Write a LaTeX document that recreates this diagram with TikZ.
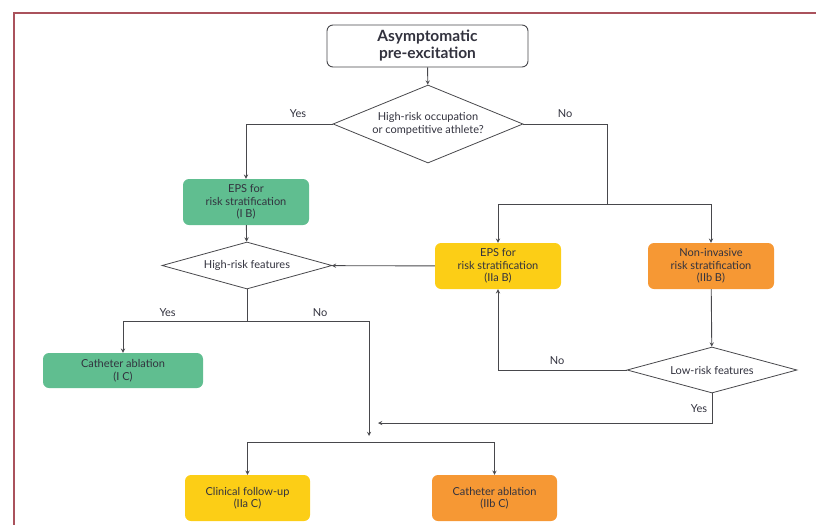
\documentclass[tikz,border=0pt]{standalone}
\usepackage{fontspec}
\setmainfont{Lato}
\usepackage{xcolor}
\usetikzlibrary{shapes,arrows,positioning}

\definecolor{boxgreen}{RGB}{96,190,144}
\definecolor{boxyellow}{RGB}{252,206,22}
\definecolor{boxorange}{RGB}{246,152,52}
\definecolor{linegray}{RGB}{72,72,76}
\definecolor{txtgray}{RGB}{50,50,62}
\definecolor{framered}{RGB}{170,82,92}

\begin{document}
\begin{tikzpicture}[x=1pt, y=-1pt, font=\fontsize{11}{12.5}\selectfont, text=txtgray]
% Define styles
\tikzstyle{startstop} = [rectangle, rounded corners=6pt, minimum width=201pt, minimum height=42pt, inner sep=1pt, align=center, draw=linegray, line width=0.9pt, fill=white, font=\fontsize{15.5}{17}\selectfont\bfseries]
\tikzstyle{process} = [rectangle, rounded corners=6pt, minimum width=126pt, minimum height=46pt, inner sep=1pt, align=center]
\tikzstyle{decision} = [diamond, aspect=2.5, inner sep=0pt, align=center, draw=linegray, line width=0.8pt, fill=white]
\tikzstyle{arrow} = [line width=0.9pt, draw=linegray, ->, >=stealth]
\tikzstyle{line} = [line width=0.9pt, draw=linegray]

\useasboundingbox (0,0) rectangle (816,525);
\draw [framered, line width=1.5pt] (816,13) -- (14,13) -- (14,525);

% Define nodes
\node (start) [startstop] at (427.5,46) {Asymptomatic\\pre-excitation};
\node (occup) [decision, minimum width=190pt, minimum height=78pt] at (428,124) {High-risk occupation\\or competitive athlete?};
\node (epsone) [process, fill=boxgreen] at (246,202) {EPS for\\risk stratification\\(I B)};
\node (hrisk) [decision, minimum width=170pt, minimum height=47pt] at (247,265.5) {High-risk features};
\node (epstwo) [process, fill=boxyellow] at (498,266) {EPS for\\risk stratification\\(IIa B)};
\node (noninv) [process, fill=boxorange] at (711,266) {Non-invasive\\risk stratification\\(IIb B)};
\node (lrisk) [decision, minimum width=170pt, minimum height=46pt] at (712,370) {Low-risk features};
\node (ablone) [process, fill=boxgreen, minimum width=160pt, minimum height=35pt] at (123,370.5) {Catheter ablation\\(I C)};
\node (follow) [process, fill=boxyellow, minimum width=125pt] at (247.5,498) {Clinical follow-up\\(IIa C)};
\node (abltwo) [process, fill=boxorange, minimum width=125pt] at (494.5,498) {Catheter ablation\\(IIb C)};

\coordinate (nosplit) at (607,204);
\coordinate (hsplit) at (247,321);
\coordinate (join) at (369,442);
\coordinate (lowyes) at (369,423);

% Draw arrows
\draw [arrow] (start) -- (occup);
\draw [arrow] (occup.west) -| node[pos=0.2, above=3pt] {Yes} (epsone.north);
\draw [line] (occup.east) -| node[pos=0.25, above=3pt] {No} (nosplit);
\draw [arrow] (nosplit) -| (epstwo.north);
\draw [arrow] (nosplit) -| (noninv.north);
\draw [arrow] (epsone) -- (hrisk);
\draw [arrow] (epstwo) -- (hrisk);
\draw [line] (hrisk.south) -- (hsplit);
\draw [arrow] (hsplit) -| node[pos=0.32, above=1pt] {Yes} (ablone.north);
\draw [arrow, shorten >=6pt] (hsplit) -| node[pos=0.3, above=1pt] {No} (join);
\draw [arrow] (noninv) -- (lrisk);
\draw [arrow] (lrisk.west) -| node[pos=0.27, above=2pt] {No} (epstwo.south);
\draw [arrow, shorten >=9pt] (lrisk.south) |- node[pos=0.25, left=1pt] {Yes} (lowyes);
\draw [arrow] (join) -| (follow.north);
\draw [arrow] (join) -| (abltwo.north);
\end{tikzpicture}
\end{document}
